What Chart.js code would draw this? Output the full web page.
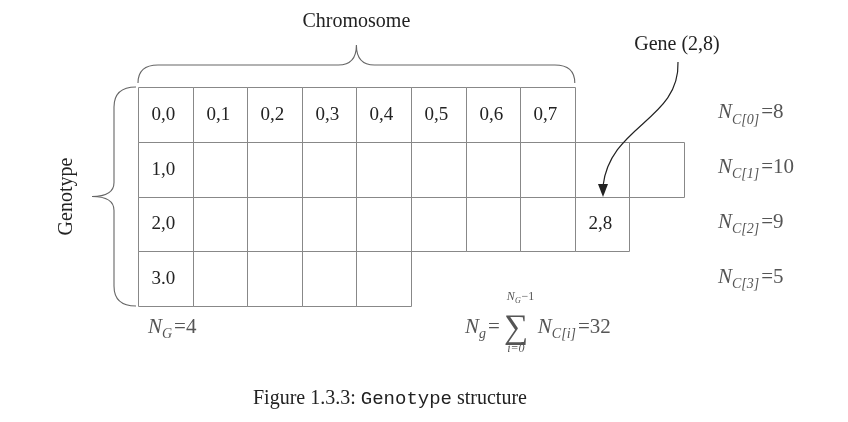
<!DOCTYPE html>
<html><head><meta charset="utf-8">
<script src="https://cdn.jsdelivr.net/npm/chart.js@4"></script>
<style>html,body{margin:0;background:#fff}#c{display:block}</style>
</head><body>
<canvas id="c" width="848" height="422"></canvas>
<script>
// genotype layout: number of genes in each chromosome
const rowLengths = [8, 10, 9, 5];
const cellLabels = [
  ["0,0","0,1","0,2","0,3","0,4","0,5","0,6","0,7"],
  ["1,0"],
  ["2,0","","","","","","","","2,8"],
  ["3.0"]
];
const chromLabels = ["0","1","2","3"];
const ncValues = [8, 10, 9, 5];

const SERIF = '"Liberation Serif","DejaVu Serif",serif';
const GREY = "#555";

function nsub(ctx, x, y, main, sub, rest, size) {
  ctx.fillStyle = GREY;
  ctx.textAlign = "left"; ctx.textBaseline = "alphabetic";
  ctx.font = "italic " + size + "px " + SERIF;
  ctx.fillText(main, x, y);
  x += ctx.measureText(main).width;
  ctx.font = "italic " + Math.round(size * 0.66) + "px " + SERIF;
  ctx.fillText(sub, x, y + size * 0.25);
  x += ctx.measureText(sub).width + 2;
  ctx.font = size + "px " + SERIF;
  ctx.fillText(rest, x, y);
  return x + ctx.measureText(rest).width;
}

const gridPlugin = {
  id: "grid",
  afterDraw(chart) {
    const ctx = chart.ctx, xs = chart.scales.x, ys = chart.scales.y;
    const px = v => Math.round(xs.getPixelForValue(v)) + 0.5;
    const py = v => Math.round(ys.getPixelForValue(v)) + 0.5;
    ctx.save();
    ctx.strokeStyle = "#888"; ctx.lineWidth = 1;
    rowLengths.forEach((n, r) => {
      for (let c = 0; c < n; c++) {
        const x0 = px(c), x1 = px(c + 1), y0 = py(r), y1 = py(r + 1);
        ctx.beginPath(); ctx.rect(x0, y0, x1 - x0, y1 - y0); ctx.stroke();
        const t = (cellLabels[r] || [])[c];
        if (t) {
          ctx.fillStyle = "#222"; ctx.font = "19px " + SERIF;
          ctx.textAlign = "left"; ctx.textBaseline = "middle";
          ctx.fillText(t, x0 + 13, (y0 + y1) / 2);
        }
      }
      nsub(ctx, 718, ys.getPixelForValue(r + 0.5) + 4, "N", "C[" + chromLabels[r] + "]", "=" + ncValues[r], 21);
    });

    const left = xs.getPixelForValue(0), top = ys.getPixelForValue(0), bot = ys.getPixelForValue(4);
    const bx1 = xs.getPixelForValue(8);
    ctx.strokeStyle = "#666"; ctx.lineWidth = 1.1;
    const ty = top - 22, mid = (left + bx1) / 2;
    ctx.beginPath();
    ctx.moveTo(left, top - 4);
    ctx.quadraticCurveTo(left, ty, left + 20, ty);
    ctx.lineTo(mid - 18, ty);
    ctx.quadraticCurveTo(mid, ty, mid, ty - 20);
    ctx.quadraticCurveTo(mid, ty, mid + 18, ty);
    ctx.lineTo(bx1 - 20, ty);
    ctx.quadraticCurveTo(bx1, ty, bx1, top - 4);
    ctx.stroke();
    const lx = left - 24, my = (top + bot) / 2;
    ctx.beginPath();
    ctx.moveTo(left - 2, top);
    ctx.quadraticCurveTo(lx, top, lx, top + 20);
    ctx.lineTo(lx, my - 14);
    ctx.quadraticCurveTo(lx, my, lx - 22, my);
    ctx.quadraticCurveTo(lx, my, lx, my + 14);
    ctx.lineTo(lx, bot - 20);
    ctx.quadraticCurveTo(lx, bot, left - 2, bot);
    ctx.stroke();

    ctx.fillStyle = "#222"; ctx.font = "20px " + SERIF; ctx.textBaseline = "alphabetic";
    ctx.textAlign = "center";
    ctx.fillText("Chromosome", mid, 27);
    ctx.fillText("Gene (2,8)", 677, 50);
    ctx.save(); ctx.translate(72, my); ctx.rotate(-Math.PI / 2);
    ctx.fillText("Genotype", 0, 0); ctx.restore();

    ctx.strokeStyle = "#222"; ctx.lineWidth = 1.2;
    ctx.beginPath(); ctx.moveTo(678, 62);
    ctx.bezierCurveTo(680, 120, 610, 125, 603, 186); ctx.stroke();
    ctx.fillStyle = "#222";
    ctx.beginPath(); ctx.moveTo(603, 197); ctx.lineTo(598, 184); ctx.lineTo(608, 184); ctx.closePath(); ctx.fill();

    nsub(ctx, 148, 333, "N", "G", "=4", 21);
    const sx = nsub(ctx, 465, 333, "N", "g", "=", 21);
    ctx.fillStyle = GREY; ctx.font = "34px " + SERIF; ctx.textAlign = "center";
    ctx.fillText("\u2211", sx + 16, 338);
    ctx.font = "italic 12px " + SERIF;
    ctx.fillText("N", sx + 11, 300);
    ctx.font = "italic 8px " + SERIF; ctx.fillText("G", sx + 18, 303);
    ctx.font = "12px " + SERIF; ctx.fillText("\u22121", sx + 28, 300);
    ctx.font = "italic 12px " + SERIF; ctx.fillText("i=0", sx + 16, 352);
    nsub(ctx, sx + 38, 333, "N", "C[i]", "=32", 21);

    ctx.fillStyle = "#222"; ctx.textAlign = "left";
    ctx.font = "20px " + SERIF;
    let cx = 253;
    ctx.fillText("Figure 1.3.3: ", cx, 404); cx += ctx.measureText("Figure 1.3.3: ").width;
    ctx.font = "19px \"Liberation Mono\",\"DejaVu Sans Mono\",monospace";
    ctx.fillText("Genotype", cx, 404); cx += ctx.measureText("Genotype").width;
    ctx.font = "20px " + SERIF;
    ctx.fillText(" structure", cx, 404);
    ctx.restore();
  }
};

new Chart(document.getElementById("c"), {
  type: "scatter",
  data: { datasets: [{ data: [] }] },
  options: {
    responsive: false, animation: false,
    layout: { padding: { left: 138, right: 164, top: 87, bottom: 116 } },
    plugins: { legend: { display: false }, tooltip: { enabled: false } },
    scales: {
      x: { type: "linear", min: 0, max: 10, display: false },
      y: { type: "linear", min: 0, max: 4, reverse: true, display: false }
    }
  },
  plugins: [gridPlugin]
});
</script>
</body></html>
